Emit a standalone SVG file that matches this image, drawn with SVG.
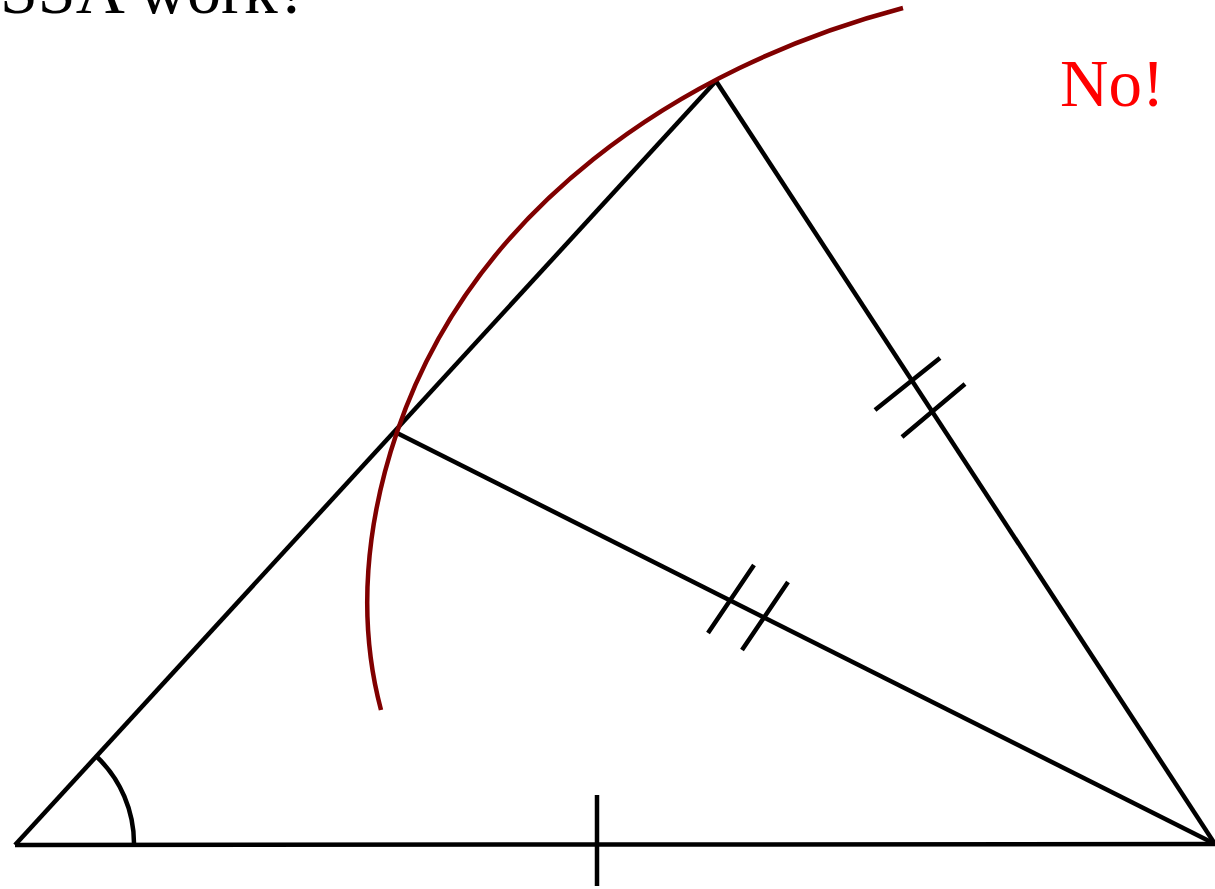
<svg xmlns="http://www.w3.org/2000/svg" width="1215" height="889" viewBox="0 0 1215 889">
<style>
.ln{stroke:#000;stroke-width:4.5;fill:none;stroke-linecap:butt}
.arc{stroke:#800000;stroke-width:4.5;fill:none}
.t{font-family:"Liberation Serif","Times New Roman",serif}
</style>
<rect width="1215" height="889" fill="#fff"/>
<text class="t" x="0" y="13" font-size="68" fill="#000">SSA work?</text>
<text class="t" x="1060" y="106" font-size="67" fill="#ff0000">No!</text>
<g id="connectors">
<path id="ab" class="ln" d="M15,845 L1215,844"/>
<path id="ac" class="ln" d="M15,845 L716,81"/>
<path id="cb" class="ln" d="M716,81 L1215,844"/>
<path id="db" class="ln" d="M395,432 L1215,844"/>
</g>
<g id="marks">
<path class="ln" d="M597,795 L597,886"/>
<path class="ln" d="M96,756 A120,120 0 0 1 134,845"/>
<path class="ln" d="M754,565 L708,633 M788,582 L742,650"/>
<path class="ln" d="M940,358 L875,410 M965,384 L902,437"/>
</g>
<g id="circle-arc">
<path class="arc" d="M903,8 C676.7,67.7 472.3,210.4 397,432 C366.4,521.9 356.5,618.3 381,710"/>
</g>
</svg>
